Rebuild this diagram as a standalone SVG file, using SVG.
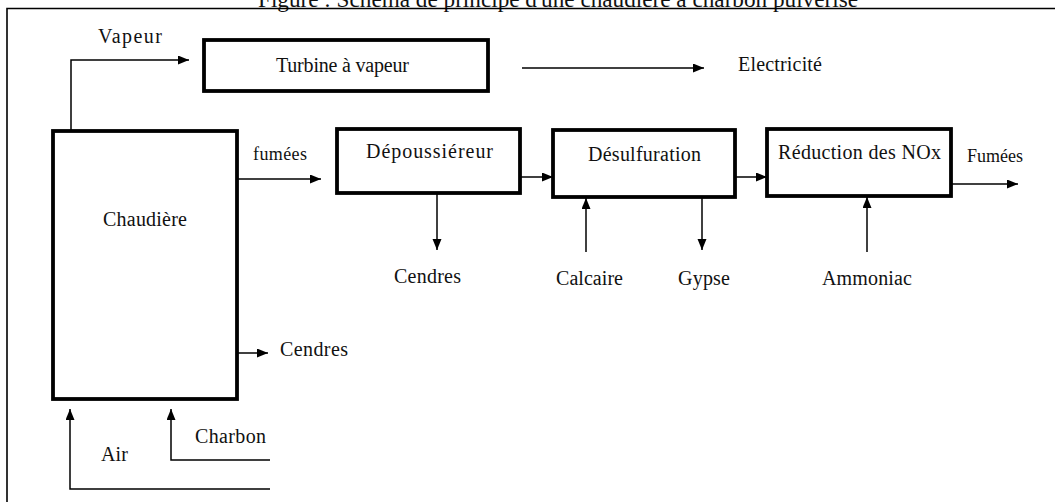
<svg xmlns="http://www.w3.org/2000/svg" width="1055" height="502" viewBox="0 0 1055 502">
<style>
.box{fill:#fff;stroke:#000;stroke-width:3.8}
.ln{fill:none;stroke:#000;stroke-width:1.5}
.fr{fill:none;stroke:#000;stroke-width:1.6}
text{font-family:"Liberation Serif","Times New Roman",serif;font-size:20px;fill:#111}
.sm{font-size:18px}
.ttl{font-size:24px}
</style>
<defs>
<marker id="ah" markerUnits="userSpaceOnUse" markerWidth="12" markerHeight="10" refX="11" refY="4.5" orient="auto">
<path d="M0,0 L11,4.5 L0,9 z" fill="#000"/>
</marker>
</defs>
<rect width="1055" height="502" fill="#fff"/>
<text class="ttl" x="258" y="7" textLength="600" lengthAdjust="spacingAndGlyphs">Figure : Schéma de principe d'une chaudière à charbon pulvérisé</text>
<path class="fr" d="M7,502 V8.5 H1055"/>

<g id="chaudiere">
<rect class="box" x="53" y="131" width="184" height="268"/>
<text x="103" y="226" textLength="84">Chaudière</text>
</g>
<g id="turbine">
<rect class="box" x="204" y="40" width="284" height="51"/>
<text x="276" y="72" textLength="133">Turbine à vapeur</text>
</g>
<g id="depoussiereur">
<rect class="box" x="337" y="129" width="183" height="64"/>
<text x="366" y="158" textLength="127">Dépoussiéreur</text>
</g>
<g id="desulfuration">
<rect class="box" x="553" y="130" width="182" height="67"/>
<text x="588" y="161" textLength="113">Désulfuration</text>
</g>
<g id="reduction">
<rect class="box" x="767" y="129" width="184" height="67"/>
<text x="778" y="159" textLength="163">Réduction des NOx</text>
</g>

<g id="labels">
<text x="98" y="43" textLength="64">Vapeur</text>
<text x="738" y="71" textLength="84">Electricité</text>
<text class="sm" x="253" y="160" textLength="54">fumées</text>
<text class="sm" x="967" y="162" textLength="56">Fumées</text>
<text x="394" y="283" textLength="67">Cendres</text>
<text x="556" y="285" textLength="67">Calcaire</text>
<text x="678" y="285" textLength="52">Gypse</text>
<text x="822" y="285" textLength="90">Ammoniac</text>
<text x="280" y="356" textLength="68">Cendres</text>
<text x="195" y="443" textLength="71">Charbon</text>
<text x="101" y="461" textLength="27">Air</text>
</g>

<g id="connectors">
<path class="ln" d="M71,131 V60 H189" marker-end="url(#ah)"/>
<path class="ln" d="M522,68 H704" marker-end="url(#ah)"/>
<path class="ln" d="M237,179 H321" marker-end="url(#ah)"/>
<path class="ln" d="M520,177 H553" marker-end="url(#ah)"/>
<path class="ln" d="M735,177 H767" marker-end="url(#ah)"/>
<path class="ln" d="M951,184 H1018" marker-end="url(#ah)"/>
<path class="ln" d="M437,193 V250" marker-end="url(#ah)"/>
<path class="ln" d="M586,252 V198" marker-end="url(#ah)"/>
<path class="ln" d="M702,197 V250" marker-end="url(#ah)"/>
<path class="ln" d="M867,252 V197" marker-end="url(#ah)"/>
<path class="ln" d="M237,353 H268" marker-end="url(#ah)"/>
<path class="ln" d="M270,489 H70 V409" marker-end="url(#ah)"/>
<path class="ln" d="M270,460 H171 V409" marker-end="url(#ah)"/>
</g>
</svg>
